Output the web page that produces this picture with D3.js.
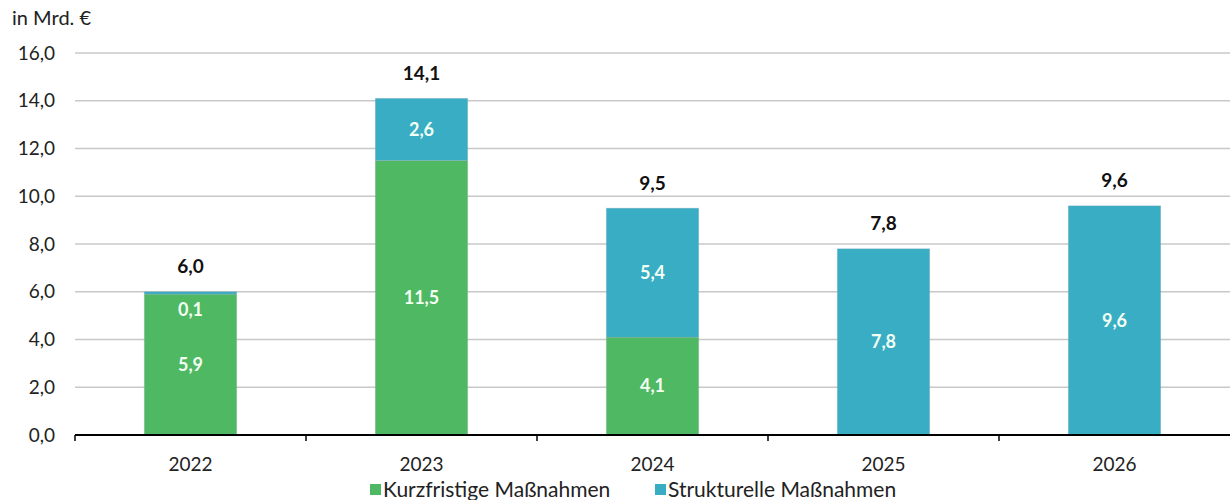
<!DOCTYPE html>
<html>
<head>
<meta charset="utf-8">
<script src="https://cdn.jsdelivr.net/npm/d3@7"></script>
<style>
  body { margin: 0; background: #fff; }
  svg text { font-family: Lato, "Open Sans", sans-serif; }
</style>
</head>
<body>
<svg id="chart" width="1230" height="500"></svg>
<script>
// data
var years = ["2022", "2023", "2024", "2025", "2026"];
var kurzfristig = [5.9, 11.5, 4.1, 0, 0];
var strukturell = [0.1, 2.6, 5.4, 7.8, 9.6];
var totals = [6.0, 14.1, 9.5, 7.8, 9.6];
var yTicks = [0, 2, 4, 6, 8, 10, 12, 14, 16];
var seriesNames = ["Kurzfristige Maßnahmen", "Strukturelle Maßnahmen"];

var colors = ["#4fb862", "#38adc4"];
var fmt = function(v) { return d3.format(".1f")(v).replace(".", ","); };

var svg = d3.select("#chart");
var mLeft = 75, mRight = 1230, mTop = 53, mBottom = 435;

var x = d3.scaleBand().domain(years).range([mLeft, mRight]).paddingInner(0.6).paddingOuter(0.3);
var band = d3.scaleBand().domain(years).range([mLeft, mRight]);
var y = d3.scaleLinear().domain([0, 16]).range([mBottom, mTop]);

// gridlines
svg.append("g").selectAll("line")
  .data(yTicks.filter(function(d) { return d > 0; }))
  .enter().append("line")
    .attr("x1", mLeft).attr("x2", mRight)
    .attr("y1", function(d) { return y(d); })
    .attr("y2", function(d) { return y(d); })
    .attr("stroke", "#c8c8c8")
    .attr("stroke-width", 1.3);

// y labels
svg.append("g").selectAll("text")
  .data(yTicks)
  .enter().append("text")
    .attr("x", 55)
    .attr("y", function(d) { return y(d); })
    .attr("dy", "0.35em")
    .attr("text-anchor", "end")
    .attr("font-size", 19)
    .attr("fill", "#222")
    .text(fmt);

svg.append("text")
  .attr("x", 12).attr("y", 25)
  .attr("font-size", 20)
  .attr("fill", "#222")
  .text("in Mrd. €");

// stacked bars
var stack = d3.stack().keys([0, 1])(years.map(function(yr, i) {
  return { 0: kurzfristig[i], 1: strukturell[i] };
}));

var layer = svg.append("g").selectAll("g")
  .data(stack)
  .enter().append("g")
    .attr("fill", function(d, i) { return colors[i]; });

layer.selectAll("rect")
  .data(function(d) { return d; })
  .enter().append("rect")
    .attr("x", function(d, i) { return x(years[i]); })
    .attr("width", x.bandwidth())
    .attr("y", function(d) { return y(d[1]); })
    .attr("height", function(d) { return y(d[0]) - y(d[1]); })
    .attr("stroke", "#9ab")
    .attr("stroke-opacity", 0.35)
    .attr("stroke-width", 0.8);

// inner value labels
stack.forEach(function(s) {
  s.forEach(function(d, i) {
    var v = d[1] - d[0];
    if (v <= 0) return;
    var cy = (y(d[0]) + y(d[1])) / 2;
    cy = Math.max(cy, y(totals[i]) + 18);
    svg.append("text")
      .attr("x", x(years[i]) + x.bandwidth() / 2)
      .attr("y", cy)
      .attr("dy", "0.35em")
      .attr("text-anchor", "middle")
      .attr("font-size", 18)
      .attr("font-weight", "bold")
      .attr("fill", "#f4fff4")
      .text(fmt(v));
  });
});

// totals
svg.append("g").selectAll("text")
  .data(totals)
  .enter().append("text")
    .attr("x", function(d, i) { return x(years[i]) + x.bandwidth() / 2; })
    .attr("y", function(d) { return y(d) - 25; })
    .attr("dy", "0.35em")
    .attr("text-anchor", "middle")
    .attr("font-size", 19)
    .attr("font-weight", "bold")
    .attr("fill", "#111")
    .text(fmt);

// x axis
svg.append("line")
  .attr("x1", mLeft).attr("x2", mRight)
  .attr("y1", mBottom).attr("y2", mBottom)
  .attr("stroke", "#000").attr("stroke-width", 2);

svg.append("g").selectAll("line")
  .data(years)
  .enter().append("line")
    .attr("x1", function(d) { return band(d); })
    .attr("x2", function(d) { return band(d); })
    .attr("y1", mBottom).attr("y2", mBottom + 6)
    .attr("stroke", "#000").attr("stroke-width", 1.5);

svg.append("g").selectAll("text")
  .data(years)
  .enter().append("text")
    .attr("x", function(d) { return band(d) + band.bandwidth() / 2; })
    .attr("y", 464)
    .attr("dy", "0.35em")
    .attr("text-anchor", "middle")
    .attr("font-size", 19)
    .attr("fill", "#222")
    .text(function(d) { return d; });

// legend
var legendX = [370, 655];
var lg = svg.append("g").selectAll("g")
  .data(seriesNames)
  .enter().append("g")
    .attr("transform", function(d, i) { return "translate(" + legendX[i] + ",490)"; });

lg.append("rect")
  .attr("x", 0).attr("y", -6)
  .attr("width", 11).attr("height", 11)
  .attr("fill", function(d, i) { return colors[i]; });

lg.append("text")
  .attr("x", 13).attr("y", 0)
  .attr("dy", "0.35em")
  .attr("font-size", 21)
  .attr("fill", "#222")
  .text(function(d) { return d; });
</script>
</body>
</html>
